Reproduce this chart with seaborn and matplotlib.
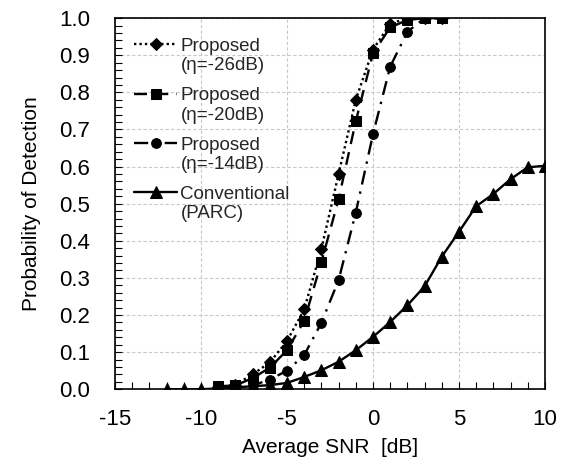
import numpy as np
import pandas as pd
import matplotlib
matplotlib.use("Agg")
import matplotlib.pyplot as plt
import seaborn as sns
from matplotlib.legend_handler import HandlerLine2D
from matplotlib.ticker import MultipleLocator, FormatStrFormatter

# Average SNR points [dB]
snr_proposed = [-9, -8, -7, -6, -5, -4, -3, -2, -1, 0, 1, 2, 3, 4]
snr_conventional = [-12, -11, -10, -9, -8, -7, -6, -5, -4, -3, -2, -1,
                    0, 1, 2, 3, 4, 5, 6, 7, 8, 9, 10]

# Probability of detection
pd_eta_m26 = [0.005, 0.012, 0.040, 0.072, 0.130, 0.215, 0.378, 0.580,
              0.780, 0.915, 0.985, 1.000, 1.000, 1.000]
pd_eta_m20 = [0.008, 0.010, 0.030, 0.058, 0.105, 0.184, 0.343, 0.512,
              0.722, 0.905, 0.975, 0.995, 1.000, 1.000]
pd_eta_m14 = [0.003, 0.005, 0.010, 0.026, 0.050, 0.092, 0.179, 0.294,
              0.476, 0.687, 0.869, 0.963, 1.000, 1.000]
pd_parc = [0.000, 0.000, 0.000, 0.002, 0.005, 0.008, 0.011, 0.017,
           0.033, 0.051, 0.074, 0.105, 0.141, 0.181, 0.226, 0.277,
           0.357, 0.424, 0.493, 0.526, 0.566, 0.598, 0.602]

labels = ["Proposed\n(η=-26dB)", "Proposed\n(η=-20dB)",
          "Proposed\n(η=-14dB)", "Conventional\n(PARC)"]

x_ticks = [-15, -10, -5, 0, 5, 10]

sns.set_theme(style="white")
plt.rcParams["font.family"] = ["Liberation Sans", "DejaVu Sans"]
plt.rcParams["axes.unicode_minus"] = False

fig = plt.figure(figsize=(5.67, 4.65), dpi=100)
ax = fig.add_axes([0.203, 0.163, 0.758, 0.798])

series = [
    (snr_proposed, pd_eta_m26, dict(marker="D", markersize=6.0, linestyle=(0, (1.0, 1.3)))),
    (snr_proposed, pd_eta_m20, dict(marker="s", markersize=7.0, linestyle=(0, (5.5, 3.5)))),
    (snr_proposed, pd_eta_m14, dict(marker="o", markersize=7.0, linestyle=(0, (6, 3, 1, 3)))),
    (snr_conventional, pd_parc, dict(marker="^", markersize=8.0, linestyle="-")),
]

for (xs, ys, style), lab in zip(series, labels):
    df = pd.DataFrame({"snr": xs, "pd": ys})
    sns.lineplot(data=df, x="snr", y="pd", ax=ax, color="black",
                 linewidth=1.7, markeredgecolor="black", markerfacecolor="black",
                 label=lab, **style)

ax.set_xlim(-15, 10)
ax.set_ylim(0, 1.0)
ax.set_xticks(x_ticks)
ax.xaxis.set_minor_locator(MultipleLocator(1))
ax.yaxis.set_major_locator(MultipleLocator(0.1))
ax.yaxis.set_minor_locator(MultipleLocator(0.02))
ax.yaxis.set_major_formatter(FormatStrFormatter("%.1f"))

ax.grid(True, which="major", color="#c8c8c8", linestyle=(0, (3, 2)), linewidth=0.8)
ax.set_axisbelow(True)
for sp in ax.spines.values():
    sp.set_color("black")
    sp.set_linewidth(1.2)

ax.tick_params(which="both", direction="in", top=False, right=False,
               bottom=True, left=True, color="black", width=0.8)
ax.tick_params(which="major", length=5, labelsize=16, labelcolor="black")
ax.tick_params(which="minor", length=5)
ax.tick_params(axis="x", which="major", pad=14)
ax.tick_params(axis="y", which="major", pad=18)

ax.set_xlabel("Average SNR  [dB]", fontsize=15, color="black", labelpad=6)
ax.set_ylabel("Probability of Detection", fontsize=15, color="black", labelpad=13)


class RaisedHandle(HandlerLine2D):
    """Line handle aligned with the first line of a two-line label."""

    def create_artists(self, legend, orig_handle, xdescent, ydescent,
                       width, height, fontsize, trans):
        return super().create_artists(legend, orig_handle, xdescent,
                                      ydescent - 1.25 * fontsize, width,
                                      height, fontsize, trans)


handles, hl = ax.get_legend_handles_labels()
leg = ax.legend(handles, hl, loc="upper left", bbox_to_anchor=(0.045, 0.947),
                frameon=False, fontsize=13.5, handlelength=2.25, handletextpad=0.2,
                labelspacing=0.68, borderpad=0, borderaxespad=0,
                handler_map={h: RaisedHandle(numpoints=1) for h in handles})

fig.savefig("out.png", dpi=100)
